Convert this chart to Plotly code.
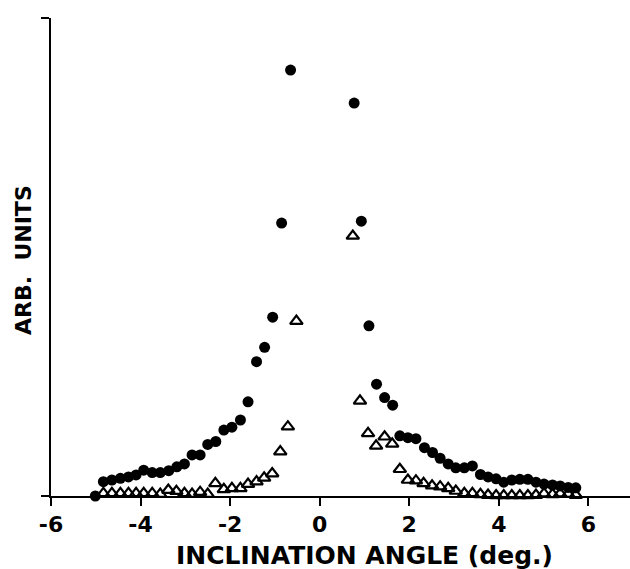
import plotly.graph_objects as go

# Filled circles: total signal vs inclination angle (deg.)
circle_x = [-5.01, -4.83, -4.64, -4.45, -4.27, -4.10, -3.93, -3.74, -3.56, -3.37,
            -3.19, -3.02, -2.85, -2.67, -2.50, -2.32, -2.14, -1.96, -1.77, -1.60,
            -1.41, -1.23, -1.05, -0.85, -0.65,
            0.77, 0.93, 1.10, 1.27, 1.45, 1.63, 1.79, 1.97, 2.15, 2.34,
            2.52, 2.69, 2.87, 3.04, 3.23, 3.41, 3.59, 3.76, 3.94, 4.11,
            4.29, 4.47, 4.65, 4.83, 5.01, 5.20, 5.37, 5.55, 5.72]
circle_y = [0.0, 3.0, 3.35, 3.7, 4.0, 4.4, 5.4, 4.9, 4.9, 5.3,
            6.1, 6.7, 8.6, 8.6, 10.8, 11.4, 13.8, 14.4, 15.9, 19.7,
            28.1, 31.1, 37.4, 57.1, 89.1,
            82.2, 57.5, 35.6, 23.4, 20.6, 19.0, 12.6, 12.2, 12.0, 10.1,
            9.1, 7.9, 6.7, 5.9, 5.9, 6.3, 4.5, 4.0, 3.6, 2.9,
            3.35, 3.5, 3.5, 2.9, 2.5, 2.3, 2.1, 1.8, 1.7]

# Open triangles: second signal vs inclination angle (deg.)
tri_x = [-4.83, -4.64, -4.45, -4.27, -4.10, -3.93, -3.74, -3.56, -3.38, -3.20,
         -3.02, -2.85, -2.67, -2.50, -2.33, -2.14, -1.96, -1.77, -1.60, -1.41,
         -1.24, -1.06, -0.88, -0.71, -0.52,
         0.74, 0.90, 1.08, 1.26, 1.45, 1.62, 1.79, 1.97, 2.15, 2.32,
         2.51, 2.69, 2.87, 3.04, 3.23, 3.41, 3.59, 3.76, 3.94, 4.11,
         4.29, 4.47, 4.65, 4.83, 5.01, 5.20, 5.37, 5.55, 5.72]
tri_y = [0.55, 0.55, 0.55, 0.55, 0.55, 0.55, 0.55, 0.4, 1.25, 1.0,
         0.55, 0.4, 0.8, 0.4, 2.65, 1.4, 1.6, 1.6, 2.5, 3.0,
         3.8, 4.7, 9.3, 14.5, 36.6,
         54.4, 19.9, 13.1, 10.5, 12.4, 10.9, 5.6, 3.35, 3.2, 2.65,
         2.15, 1.95, 1.6, 1.05, 0.55, 0.55, 0.35, 0.2, 0.1, 0.1,
         0.1, 0.1, 0.1, 0.2, 0.5, 0.35, 0.5, 0.4, 0.2]

x_ticks = [-6, -4, -2, 0, 2, 4, 6]
x_tick_labels = ["-6", "-4", "-2", "0", "2", "4", "6"]

FONT = "DejaVu Sans"
ML, MR, MT, MB = 51, 0, 18, 73
W, H = 630, 569

fig = go.Figure()
fig.add_trace(go.Scatter(
    x=circle_x, y=circle_y, mode="markers", cliponaxis=False,
    marker=dict(symbol="circle", size=11, color="black", line=dict(width=0)),
    showlegend=False,
))
fig.add_trace(go.Scatter(
    x=tri_x, y=tri_y, mode="markers", cliponaxis=False,
    marker=dict(symbol="triangle-up-open", size=11, color="black",
                line=dict(width=2.2, color="black")),
    showlegend=False,
))

pw, ph = W - ML - MR, H - MT - MB


def px_to_paper(px, py):
    return (px - ML) / pw, (H - MB - py) / ph


tx, ty = px_to_paper(364, 555)
yx, yy = px_to_paper(23, 260)

fig.update_layout(
    width=W, height=H,
    margin=dict(l=ML, r=MR, t=MT, b=MB),
    paper_bgcolor="white", plot_bgcolor="white",
    font=dict(family=FONT, color="black"),
    xaxis=dict(
        range=[-6, 6.93], showgrid=False, zeroline=False,
        showline=True, linecolor="black", linewidth=2,
        ticks="outside", ticklen=8, tickwidth=2, tickcolor="black",
        tickvals=x_ticks, ticktext=["<b>%s</b>" % t for t in x_tick_labels],
        tickfont=dict(family=FONT, size=22, color="black"),
    ),
    yaxis=dict(
        range=[0, 100], showgrid=False, zeroline=False,
        showline=True, linecolor="black", linewidth=2,
        ticks="outside", ticklen=8, tickwidth=2, tickcolor="black",
        tickvals=[0, 100], showticklabels=False,
    ),
    annotations=[
        dict(text="<b>INCLINATION ANGLE (deg.)</b>", x=tx, y=ty,
             xref="paper", yref="paper", xanchor="center", yanchor="middle",
             showarrow=False,
             font=dict(family=FONT, size=25, color="black")),
        dict(text="<b>ARB.\u00a0 UNITS</b>", x=yx, y=yy,
             xref="paper", yref="paper", xanchor="center", yanchor="middle",
             showarrow=False, textangle=-90,
             font=dict(family=FONT, size=22, color="black")),
    ],
)

fig.write_html("out.html")
